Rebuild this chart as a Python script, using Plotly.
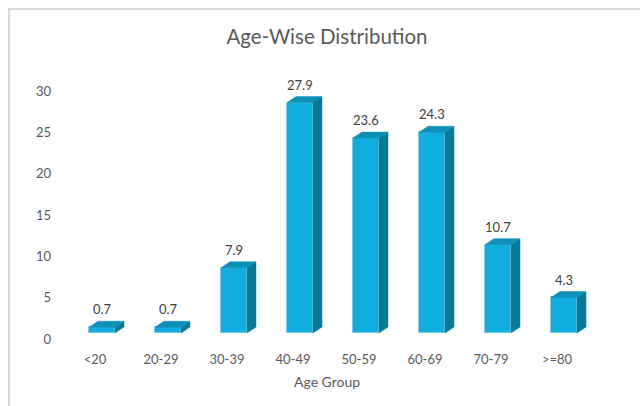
import plotly.graph_objects as go

categories = ["<20", "20-29", "30-39", "40-49", "50-59", "60-69", "70-79", ">=80"]
values = [0.7, 0.7, 7.9, 27.9, 23.6, 24.3, 10.7, 4.3]
y_ticks = [0, 5, 10, 15, 20, 25, 30]

FRONT = "#10AEDE"
TOP = "#0E8FB8"
SIDE = "#0B7896"
FONT = "Lato"

W = 0.394   # front face width (category units)
DX = 0.136  # depth offset x
DY = 0.725  # depth offset y

xs = list(range(len(categories)))

side_x, side_y, top_x, top_y = [], [], [], []
for i, v in zip(xs, values):
    r = i + W / 2
    l = i - W / 2
    side_x += [r, r + DX, r + DX, r, r, None]
    side_y += [0, DY, v + DY, v, 0, None]
    top_x += [l, l + DX, r + DX, r, l, None]
    top_y += [v, v + DY, v + DY, v, v, None]

fig = go.Figure()
fig.add_trace(go.Scatter(x=side_x, y=side_y, fill="toself", fillcolor=SIDE,
                         mode="lines", line=dict(width=0.5, color=SIDE),
                         hoverinfo="skip", showlegend=False))
fig.add_trace(go.Scatter(x=top_x, y=top_y, fill="toself", fillcolor=TOP,
                         mode="lines", line=dict(width=0.5, color=TOP),
                         hoverinfo="skip", showlegend=False))
fig.add_trace(go.Bar(x=xs, y=values, width=W, marker=dict(color=FRONT,
                     line=dict(width=0.8, color="#5FCBEA")), showlegend=False))

for i, v in zip(xs, values):
    fig.add_annotation(x=i, y=v + DY, text=f"{v}", showarrow=False,
                       yanchor="bottom", yshift=2,
                       font=dict(family=FONT, size=13, color="#404040"))

fig.add_annotation(xref="paper", yref="paper", x=0.4886, y=-0.1875,
                   text="Age Group", showarrow=False, yanchor="middle",
                   font=dict(family=FONT, size=14, color="#595959"))

# chart border
fig.add_shape(type="rect", xref="paper", yref="paper",
              x0=(9 - 69) / 528, x1=(660 - 69) / 528,
              y0=(333 - 9) / 256, y1=(333 - 430) / 256,
              line=dict(color="#D9D9D9", width=2), fillcolor="rgba(0,0,0,0)")

fig.update_layout(
    width=640, height=406,
    margin=dict(l=69, r=43, t=77, b=73),
    paper_bgcolor="white", plot_bgcolor="white",
    title=dict(text="Age-Wise Distribution", x=327 / 640, xanchor="center",
               y=1 - 37 / 406, yanchor="middle",
               font=dict(family=FONT, size=20.5, color="#595959")),
    xaxis=dict(range=[-0.5, 7.5], tickvals=xs, ticktext=categories,
               showgrid=False, zeroline=False, showline=False, ticks="",
               ticklabelstandoff=17, ticklabelshift=-7,
               tickfont=dict(family=FONT, size=13, color="#595959")),
    yaxis=dict(range=[0, 31], tickvals=y_ticks, showgrid=False,
               zeroline=False, showline=False, ticks="",
               ticklabelstandoff=17, ticklabelshift=6,
               tickfont=dict(family=FONT, size=13, color="#595959")),
    bargap=0,
)

fig.write_html("out.html")
